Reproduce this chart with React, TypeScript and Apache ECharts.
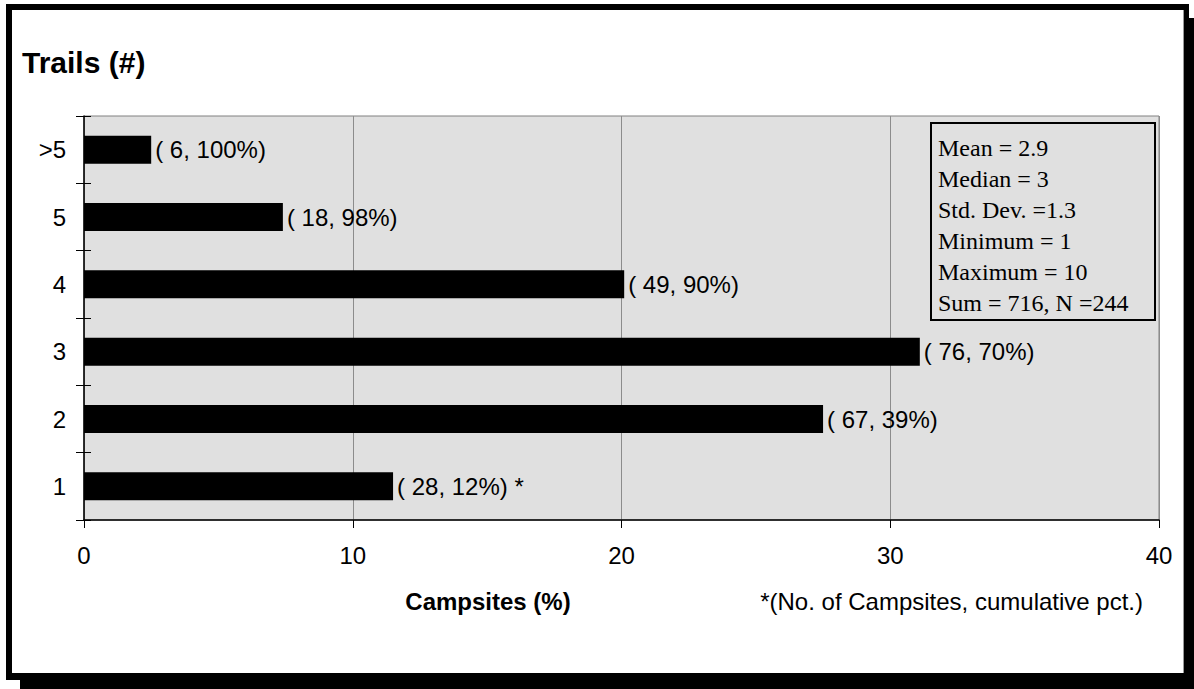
import React, { useEffect, useRef } from "react";
import * as echarts from "echarts";

const categories = ["1", "2", "3", "4", "5", ">5"];
const percentValues = [11.5, 27.5, 31.1, 20.1, 7.4, 2.5];
const counts = [28, 67, 76, 49, 18, 6];
const cumulativePct = [12, 39, 70, 90, 98, 100];
const xTicks = { min: 0, max: 40, interval: 10 };
const statsLines = [
  "Mean = 2.9",
  "Median = 3",
  "Std. Dev. =1.3",
  "Minimum = 1",
  "Maximum = 10",
  "Sum = 716, N =244",
];
const title = "Trails (#)";
const xAxisTitle = "Campsites (%)";
const footnote = "*(No. of Campsites, cumulative pct.)";

const W = 1194;
const H = 689;
const GRID = { left: 84, top: 116, width: 1075, height: 404 };
const SANS = "Arial, 'Liberation Sans', sans-serif";
const SERIF = "'Times New Roman', 'Liberation Serif', serif";
const FS = 24;

export default function App() {
  const ref = useRef<HTMLDivElement>(null);

  useEffect(() => {
    document.body.style.margin = "0";
    const chart = echarts.init(ref.current!, null, { renderer: "svg" });

    const labels = counts.map(
      (c, i) => `( ${c}, ${cumulativePct[i]}%)` + (i === 0 ? " *" : "")
    );

    const statsTop = 123;
    const statsLeft = 931;
    const statsW = 224;
    const statsH = 197;
    const lineGap = 31;

    const graphic: any[] = [
      { type: "rect", z: -10, shape: { x: 20, y: 18, width: W - 20, height: H - 18 }, style: { fill: "#000" }, silent: true },
      { type: "rect", z: -9, shape: { x: 6, y: 4, width: 1183, height: 676 }, style: { fill: "#000" }, silent: true },
      { type: "rect", z: -8, shape: { x: 12, y: 10, width: 1172, height: 663 }, style: { fill: "#fff" }, silent: true },
      { type: "line", z: -7, shape: { x1: 1183.5, y1: 10, x2: 1183.5, y2: 673 }, style: { stroke: "#999", lineWidth: 1 }, silent: true },
      {
        type: "text",
        x: 22,
        y: 62,
        style: { text: title, font: `bold 30px ${SANS}`, fill: "#000", verticalAlign: "middle" },
      },
      {
        type: "text",
        x: 488,
        y: 601,
        style: {
          text: xAxisTitle,
          font: `bold ${FS}px ${SANS}`,
          fill: "#000",
          align: "center",
          verticalAlign: "middle",
        },
      },
      {
        type: "text",
        x: 1143,
        y: 601,
        style: {
          text: footnote,
          font: `${FS}px ${SANS}`,
          fill: "#000",
          align: "right",
          verticalAlign: "middle",
        },
      },
      {
        type: "rect",
        z: 10,
        shape: { x: statsLeft, y: statsTop, width: statsW, height: statsH },
        style: { fill: "#e0e0e0", stroke: "#000", lineWidth: 2 },
      },
      ...statsLines.map((t, i) => ({
        type: "text",
        z: 11,
        x: 938,
        y: statsTop + 25 + i * lineGap,
        style: {
          text: t,
          font: `${FS}px ${SERIF}`,
          fill: "#000",
          verticalAlign: "middle",
        },
      })),
    ];

    chart.setOption({
      animation: false,
      graphic,
      grid: {
        left: GRID.left,
        top: GRID.top,
        width: GRID.width,
        height: GRID.height,
        show: true,
        backgroundColor: "#e0e0e0",
        borderColor: "#808080",
        borderWidth: 1,
        containLabel: false,
      },
      xAxis: {
        type: "value",
        min: xTicks.min,
        max: xTicks.max,
        interval: xTicks.interval,
        axisLine: { show: true, onZero: false, lineStyle: { color: "#000", width: 1.5 } },
        axisTick: { show: true, length: 8, lineStyle: { color: "#000" } },
        axisLabel: { margin: 23, fontSize: FS, color: "#000", fontFamily: SANS },
        splitLine: { show: true, lineStyle: { color: "#8c8c8c", width: 1 } },
      },
      yAxis: [
        {
          type: "category",
          data: categories,
          axisLine: { show: true, lineStyle: { color: "#000", width: 1.5 } },
          axisTick: { show: true, length: 8, lineStyle: { color: "#000" } },
          axisLabel: { margin: 18, fontSize: FS, color: "#000", fontFamily: SANS },
        },
        {
          type: "category",
          data: categories,
          position: "left",
          offset: 0,
          axisLine: { show: false },
          axisTick: { show: true, inside: true, length: 7, lineStyle: { color: "#000" } },
          axisLabel: { show: false },
        },
      ],
      series: [
        {
          type: "bar",
          data: percentValues,
          barWidth: 28,
          itemStyle: { color: "#000" },
          label: {
            show: true,
            position: "right",
            distance: 4,
            fontSize: FS,
            fontFamily: SANS,
            color: "#000",
            formatter: (p: any) => labels[p.dataIndex],
          },
        },
      ],
    });

    return () => chart.dispose();
  }, []);

  return (
    <div
      ref={ref}
      style={{ position: "absolute", left: 0, top: 0, width: W, height: H }}
    />
  );
}
